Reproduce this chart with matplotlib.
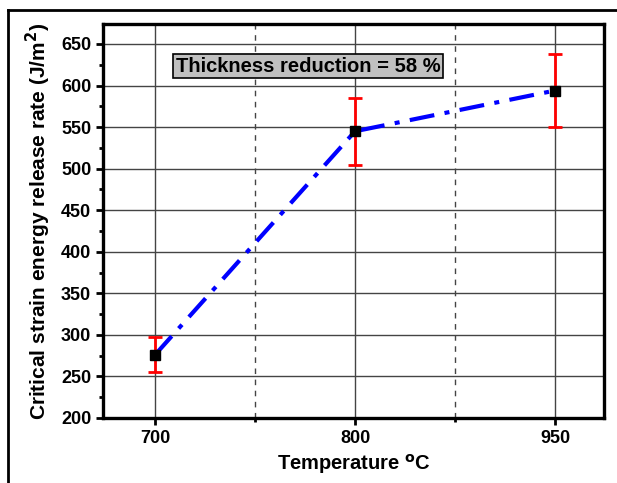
import matplotlib
matplotlib.use("Agg")
import matplotlib.pyplot as plt
from matplotlib.lines import Line2D
from matplotlib.ticker import MultipleLocator, FixedLocator

categories = ["700", "800", "950"]
values = [276, 545, 594]
errors = [21, 40, 44]

plt.rcParams['font.family'] = ['Liberation Sans', 'DejaVu Sans']

fig = plt.figure(figsize=(6.17, 4.83), dpi=100)
ax = fig.add_axes([0.167, 0.1346, 0.812, 0.8156])

x = list(range(1, len(categories) + 1))
ax.plot(x, values, linestyle=(0, (6, 2.5, 1.2, 2.5)), color='#0000ff', lw=3, zorder=3)
ax.errorbar(x, values, yerr=errors, fmt='none', ecolor='#ff0000', elinewidth=2,
            capsize=5, capthick=2, zorder=4)
ax.plot(x, values, linestyle='none', marker='s', ms=7, color='black', zorder=5)

ax.set_xlim(0.74, 3.245)
ax.set_ylim(200, 674)
ax.set_xticks(x)
ax.set_xticklabels(categories)
ax.xaxis.set_minor_locator(FixedLocator([1.5, 2.5]))
ax.yaxis.set_major_locator(MultipleLocator(50))
ax.yaxis.set_minor_locator(MultipleLocator(25))

ax.grid(True, which='major', axis='both', color='#444444', lw=1.0, zorder=0)
ax.grid(True, which='minor', axis='x', color='#444444', lw=1.0, ls=(0, (4, 4)), zorder=0)

for s in ax.spines.values():
    s.set_linewidth(2.4)
ax.tick_params(axis='both', which='major', direction='out', length=5, width=2,
               labelsize=13, top=False, right=False)
ax.tick_params(axis='y', which='minor', direction='out', length=3, width=2)
ax.tick_params(axis='x', which='minor', direction='out', length=3, width=2)
for lab in ax.get_xticklabels() + ax.get_yticklabels():
    lab.set_fontweight('bold')

ax.set_ylabel('Critical strain energy release rate (J/m$^\\mathbf{2}$)',
              fontsize=15, fontweight='bold', labelpad=6)
ax.set_xlabel('Temperature $^\\mathbf{o}$C', fontsize=14.5, fontweight='bold', labelpad=4)

ax.text(0.409, 0.893, 'Thickness reduction = 58 %', transform=ax.transAxes,
        ha='center', va='center', fontsize=14.5, fontweight='bold',
        bbox=dict(boxstyle='square,pad=0.12', facecolor='#c0c0c0', edgecolor='black', lw=1.2),
        zorder=6)

fig.add_artist(Line2D([8/617, 1.0], [1 - 10/483, 1 - 10/483], color='black', lw=2,
                      transform=fig.transFigure))
fig.add_artist(Line2D([8/617, 8/617], [0, 1 - 10/483], color='black', lw=2,
                      transform=fig.transFigure))

fig.savefig('out.png', dpi=100)
